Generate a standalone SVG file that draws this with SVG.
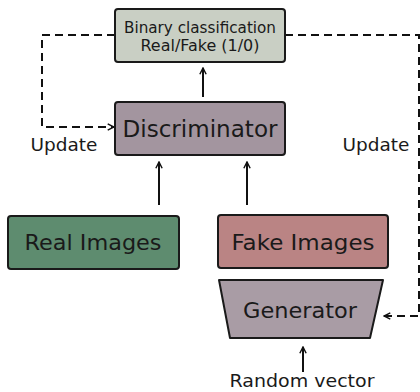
<svg xmlns="http://www.w3.org/2000/svg" width="420" height="392" viewBox="0 0 420 392">
<defs>
<marker id="arr" viewBox="0 0 10 10" refX="9" refY="5" markerWidth="9" markerHeight="9" markerUnits="userSpaceOnUse" orient="auto">
<path d="M2,1.5 L9,5 L2,8.5" fill="none" stroke="#111" stroke-width="1.6"/>
</marker>
</defs>
<style>
.box{stroke:#1a1a1a;stroke-width:2}
text{font-family:"DejaVu Sans","Liberation Sans",sans-serif;fill:#1a1a1a;text-anchor:middle}
.solid{stroke:#111;stroke-width:2;fill:none}
.dash{stroke:#111;stroke-width:2;fill:none;stroke-dasharray:8,5}
</style>
<rect width="420" height="392" fill="#fff"/>
<g id="connectors">
<path class="solid" d="M203,97 V68" marker-end="url(#arr)"/>
<path class="solid" d="M159,205 V162" marker-end="url(#arr)"/>
<path class="solid" d="M247,205 V162" marker-end="url(#arr)"/>
<path class="solid" d="M303,372 V347" marker-end="url(#arr)"/>
<path class="dash" d="M115,35 H42 V127 H114" marker-end="url(#arr)"/>
<path class="dash" d="M285,35 H419 V316 H384" marker-end="url(#arr)"/>
<text x="64" y="151" font-size="18" textLength="67" lengthAdjust="spacingAndGlyphs">Update</text>
<text x="376" y="151" font-size="18" textLength="67" lengthAdjust="spacingAndGlyphs">Update</text>
</g>
<g id="binary">
<rect class="box" x="115" y="9" width="170" height="53" rx="3" fill="#c9cfc4"/>
<text x="200" y="33" font-size="15" textLength="152" lengthAdjust="spacingAndGlyphs">Binary classification</text>
<text x="200" y="51" font-size="15" textLength="119" lengthAdjust="spacingAndGlyphs">Real/Fake (1/0)</text>
</g>
<g id="discriminator">
<rect class="box" x="115" y="102" width="170" height="53" rx="3" fill="#a3959f"/>
<text x="200" y="137" font-size="23" textLength="155" lengthAdjust="spacingAndGlyphs">Discriminator</text>
</g>
<g id="real">
<rect class="box" x="8" y="216" width="171" height="53" rx="3" fill="#5e8c6f"/>
<text x="93" y="250" font-size="22" textLength="137" lengthAdjust="spacingAndGlyphs">Real Images</text>
</g>
<g id="fake">
<rect class="box" x="218" y="215" width="170" height="53" rx="3" fill="#ba8484"/>
<text x="303" y="250" font-size="22" textLength="143" lengthAdjust="spacingAndGlyphs">Fake Images</text>
</g>
<g id="generator">
<path class="box" d="M219,280 H383 L370,338 H230 Z" fill="#a99ca5" stroke-linejoin="round"/>
<text x="300" y="318" font-size="22" textLength="114" lengthAdjust="spacingAndGlyphs">Generator</text>
</g>
<g id="random">
<text x="302" y="387" font-size="18" textLength="145" lengthAdjust="spacingAndGlyphs">Random vector</text>
</g>
</svg>
